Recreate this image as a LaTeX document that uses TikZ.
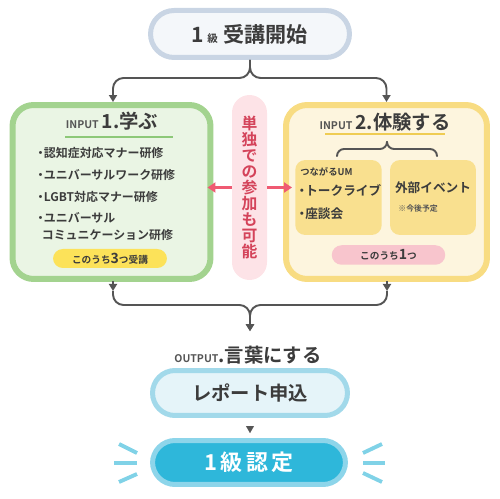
\documentclass[tikz,border=0pt]{standalone}
\usepackage{fontspec}
\setmainfont{Noto Sans CJK JP}[BoldFont={Noto Sans CJK JP Bold}]
\usetikzlibrary{arrows.meta}

\definecolor{ink}{HTML}{3C3C3C}
\definecolor{conngray}{HTML}{555555}
\definecolor{startline}{HTML}{C9D5E4}
\definecolor{startfill}{HTML}{F4F7FA}
\definecolor{learnline}{HTML}{A3D38F}
\definecolor{learnfill}{HTML}{EAF5E4}
\definecolor{learnrule}{HTML}{8DC878}
\definecolor{expline}{HTML}{F8DC82}
\definecolor{expfill}{HTML}{FDF5DE}
\definecolor{exprule}{HTML}{EFCC52}
\definecolor{inner}{HTML}{F9E08F}
\definecolor{solofill}{HTML}{FDE3E7}
\definecolor{solotext}{HTML}{D4435A}
\definecolor{soloarrow}{HTML}{EF5A72}
\definecolor{tagthree}{HTML}{FCE259}
\definecolor{tagone}{HTML}{F8C5CD}
\definecolor{reportline}{HTML}{A2D9EA}
\definecolor{reportfill}{HTML}{E5F4F9}
\definecolor{certline}{HTML}{8DD5EA}
\definecolor{certfill}{HTML}{2EB7DA}
\definecolor{ray}{HTML}{80D2E7}

\newcommand\jp[1]{\fontsize{#1}{#1}\selectfont\bfseries}
\newcommand\dotmark{\makebox[0.55em]{・}}

\tikzset{
  conn/.style={draw=conngray, line width=1.1pt, rounded corners=6pt},
  tipend/.style={-{Triangle[width=0.16cm,length=0.14cm]}},
  pill/.style={line width=0.1cm, minimum width=3.9cm, minimum height=0.9cm, rounded corners=0.45cm, text=ink},
  bigbox/.style={line width=0.12cm, minimum width=3.96cm, minimum height=3.48cm, rounded corners=0.42cm},
  innerbox/.style={fill=inner, minimum width=1.73cm, minimum height=1.5cm, rounded corners=0.2cm},
  tagpill/.style={minimum height=0.39cm, minimum width=2.27cm, rounded corners=0.195cm, inner sep=0pt, text=ink},
  item/.style={anchor=west, text=ink, inner sep=0pt, font=\jp{6.8}},
  soloarr/.style={draw=soloarrow, line width=1.7pt, -{Triangle[width=0.2cm,length=0.16cm]}},
  rayline/.style={draw=ray, line width=2.2pt}
}

\begin{document}
\begin{tikzpicture}[x=0.02cm,y=-0.02cm,line join=round]
\useasboundingbox (0,0) rectangle (500,499);

% start
\node[pill, draw=startline, fill=startfill, minimum width=3.98cm, minimum height=0.94cm, rounded corners=0.47cm] (start) at (250,34)
  {{\jp{12}1}\,{\jp{6}級}\,\,{\jp{12}受講開始}};

% two inputs
\node[bigbox, draw=learnline, fill=learnfill] (learn) at (111.5,192) {};
\node[bigbox, draw=expline, fill=expfill, minimum width=4.02cm] (exp) at (386.5,192) {};

\node[fill=solofill, minimum width=0.7cm, minimum height=3.7cm, rounded corners=0.35cm, inner sep=0pt,
  align=center, text=solotext, font=\jp{9}, execute at begin node=\setlength{\baselineskip}{9.1pt}] (solo) at (249.5,187.5)
  {単\\独\\で\\の\\参\\加\\も\\可\\能};

% learn contents
\node[text=ink] (learntitle) at (112,121) {{\jp{6}\color{conngray}INPUT}\,{\jp{11}1.学ぶ}};
\draw[learnrule, line width=1.1pt] (65,137) -- (173,137);
\node[item] (itemA) at (37,153) {\dotmark 認知症対応マナー研修};
\node[item] (itemB) at (37,175) {\dotmark ユニバーサルワーク研修};
\node[item] (itemC) at (37,197) {\dotmark LGBT対応マナー研修};
\node[item] (itemD) at (37,218) {\dotmark ユニバーサル};
\node[item] (itemE) at (41.5,235) {コミュニケーション研修};
\node[tagpill, fill=tagthree, minimum width=2.28cm, minimum height=0.38cm] (pickthree) at (110,258.5)
  {{\jp{5.5}このうち}{\jp{8}3}{\jp{5.5}つ受講}};

% experience contents
\node[text=ink] (exptitle) at (385,122) {{\jp{6}\color{conngray}INPUT}\,{\jp{11}2.体験する}};
\draw[exprule, line width=1.1pt] (325,134) -- (445,134);
\draw[conn, rounded corners=4pt] (337,156) -- (337,149) -- (387,149) -- (387,142);
\draw[conn, rounded corners=4pt] (437,156) -- (437,149) -- (387,149) -- (387,142);
\node[innerbox] (um) at (338.5,197.5) {};
\node[innerbox, minimum width=1.72cm] (outside) at (433,197.5) {};
\node[item, font=\jp{5.3}] (umname) at (300,172) {つながるUM};
\node[item, font=\jp{7.2}] (talk) at (298,190) {\dotmark トークライブ};
\node[item, font=\jp{7.2}] (round) at (298,214) {\dotmark 座談会};
\node[text=ink, font=\jp{7.2}] (event) at (433,188) {外部イベント};
\node[item, font=\jp{4.5}, text=conngray] (later) at (398,208) {※今後予定};
\node[tagpill, fill=tagone] (pickone) at (388.5,255)
  {{\jp{5.5}このうち}{\jp{8}1}{\jp{5.5}つ}};

% output
\node[text=ink] (outtitle) at (248,355) {{\jp{6}\color{conngray}OUTPUT}{\jp{11}.言葉にする}};
\node[pill, draw=reportline, fill=reportfill] (report) at (250,393) {\jp{11}レポート申込};
\node[pill, draw=certline, fill=certfill, minimum width=3.86cm, minimum height=0.88cm, text=white] (cert) at (249,462.5)
  {\jp{12.5}1\,級\,認\,定};

% connectors
\coordinate (split) at (250,78);
\draw[conn, tipend] (start.south) -- (split) -| ([xshift=0.03cm]learn.north);
\draw[conn, tipend] (start.south) -- (split) -| (exp.north);

\coordinate (lmark) at (113,291);
\coordinate (rmark) at (387,291);
\coordinate (merge) at (250,305);
\draw[conn, tipend, shorten <=-0.02cm] (learn.south -| lmark) -- (lmark);
\draw[conn, tipend, shorten <=-0.02cm] (exp.south -| rmark) -- (rmark);
\draw[conn, tipend, shorten >=0.17cm] (lmark) |- (merge) -- (outtitle.north -| merge);
\draw[conn, tipend, shorten >=0.17cm] (rmark) |- (merge) -- (outtitle.north -| merge);
\draw[conngray, line width=0.1pt, tipend, shorten <=0.16cm, shorten >=0.1cm] (report.south) -- (cert.north -| report.south);

\draw[soloarr, shorten >=-0.12cm] (solo.west) -- (solo.west -| learn.east);
\draw[soloarr, shorten >=-0.18cm] (solo.east) -- (solo.east -| exp.west);

% rays
\draw[rayline] (119,444) -- (137,453);
\draw[rayline] (114,463) -- (137,463);
\draw[rayline] (119,482) -- (137,474);
\draw[rayline] (363,453) -- (382,444);
\draw[rayline] (363,463) -- (385,463);
\draw[rayline] (363,473) -- (382,482);
\end{tikzpicture}
\end{document}
